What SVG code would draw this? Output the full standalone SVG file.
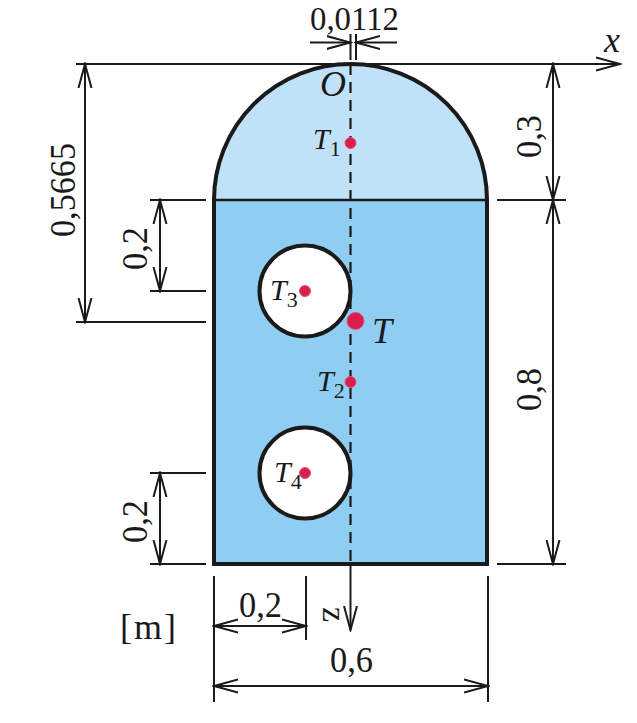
<svg xmlns="http://www.w3.org/2000/svg" width="637" height="723" viewBox="0 0 637 723">
<style>
.t{font-family:"Liberation Serif","Times New Roman",serif;fill:#1a1a1a;font-size:36px}
.i{font-style:italic}
.p{font-size:30px}
.b{font-style:normal;font-size:22px}
.d{stroke:#1a1a1a;stroke-width:2;fill:none}
.o{stroke:#1a1a1a;stroke-width:4}
.r{fill:#d81f4e;stroke:#e8506f;stroke-width:1}
</style>
<defs>
<marker id="a" markerUnits="userSpaceOnUse" markerWidth="26" markerHeight="16" refX="24" refY="8" orient="auto-start-reverse" viewBox="0 0 26 16">
<path d="M0 1.500L24 8L0 14.500" fill="none" stroke="#1a1a1a" stroke-width="2"/>
</marker>
</defs>
<rect width="637" height="723" fill="#fff"/>
<g id="tank">
<path d="M214 200A136.500 136 0 0 1 487 200Z" fill="#c0e2f8"/>
<rect x="214" y="200" width="273" height="364" fill="#8fcdf3"/>
<path class="o" fill="none" d="M214 564V200A136.500 136 0 0 1 487 200V564Z"/>
<path d="M214 200H487" stroke="#1a1a1a" stroke-width="2.500" fill="none"/>
</g>
<g id="hole-top"><circle class="o" cx="305" cy="291" r="45.500" fill="#fff"/></g>
<g id="hole-bottom"><circle class="o" cx="305" cy="473" r="45.500" fill="#fff"/></g>
<g id="connectors">
<path d="M350.500 64V564" stroke="#1a1a1a" stroke-width="2.200" stroke-dasharray="11 7" fill="none"/>
<path class="d" d="M350.500 564V630" marker-end="url(#a)"/>
<path class="d" d="M76 64H620" marker-end="url(#a)"/>
<path class="d" d="M350.500 34V60M356 34V60"/>
<path class="d" d="M310 42.500H350.500" marker-end="url(#a)"/>
<path class="d" d="M397 42.500H356" marker-end="url(#a)"/>
<path class="d" d="M85 64V322" marker-start="url(#a)" marker-end="url(#a)"/>
<path class="d" d="M76 322H206"/>
<path class="d" d="M150 200H206M150 291H206"/>
<path class="d" d="M160 200V291" marker-start="url(#a)" marker-end="url(#a)"/>
<path class="d" d="M150 473H206M150 564H206"/>
<path class="d" d="M160 473V564" marker-start="url(#a)" marker-end="url(#a)"/>
<path class="d" d="M497 64H566M497 200H566M497 564H566"/>
<path class="d" d="M553 64V200" marker-start="url(#a)" marker-end="url(#a)"/>
<path class="d" d="M553 200V564" marker-start="url(#a)" marker-end="url(#a)"/>
<path class="d" d="M214 576V702M488 576V702M306 576V640"/>
<path class="d" d="M214 626H306" marker-start="url(#a)" marker-end="url(#a)"/>
<path class="d" d="M214 686H488" marker-start="url(#a)" marker-end="url(#a)"/>
</g>
<g id="points">
<circle class="r" cx="350.500" cy="143" r="5.500"/>
<circle class="r" cx="305" cy="291" r="5.500"/>
<circle class="r" cx="350.500" cy="382" r="5.500"/>
<circle class="r" cx="305" cy="473" r="5.500"/>
<circle class="r" cx="355.500" cy="321" r="8.500"/>
</g>
<g id="labels">
<text class="t" x="310" y="30" style="font-size:33px" textLength="89" lengthAdjust="spacingAndGlyphs">0,0112</text>
<text class="t i" x="604" y="52">x</text>
<text class="t i" x="320" y="96" textLength="26" lengthAdjust="spacingAndGlyphs">O</text>
<text class="t i p" x="313" y="149">T<tspan class="b" dy="7">1</tspan></text>
<text class="t i p" x="270" y="300">T<tspan class="b" dy="7">3</tspan></text>
<text class="t i p" x="317" y="391">T<tspan class="b" dy="7">2</tspan></text>
<text class="t i p" x="274" y="482">T<tspan class="b" dy="7">4</tspan></text>
<text class="t i" x="372" y="343">T</text>
<text class="t" transform="translate(75 237) rotate(-90)" textLength="94" lengthAdjust="spacingAndGlyphs">0,5665</text>
<text class="t" transform="translate(147 270) rotate(-90)" textLength="43" lengthAdjust="spacingAndGlyphs">0,2</text>
<text class="t" transform="translate(147 543) rotate(-90)" textLength="43" lengthAdjust="spacingAndGlyphs">0,2</text>
<text class="t" transform="translate(541 158) rotate(-90)" textLength="43" lengthAdjust="spacingAndGlyphs">0,3</text>
<text class="t" transform="translate(541 411) rotate(-90)" textLength="43" lengthAdjust="spacingAndGlyphs">0,8</text>
<text class="t" x="239" y="617" textLength="43" lengthAdjust="spacingAndGlyphs">0,2</text>
<text class="t" x="330" y="672" textLength="43" lengthAdjust="spacingAndGlyphs">0,6</text>
<text class="t" x="120" y="639" textLength="56" lengthAdjust="spacing">[ m ]</text>
<text class="t" transform="translate(323 607) rotate(90)" style="font-size:34px">z</text>
</g>
</svg>
